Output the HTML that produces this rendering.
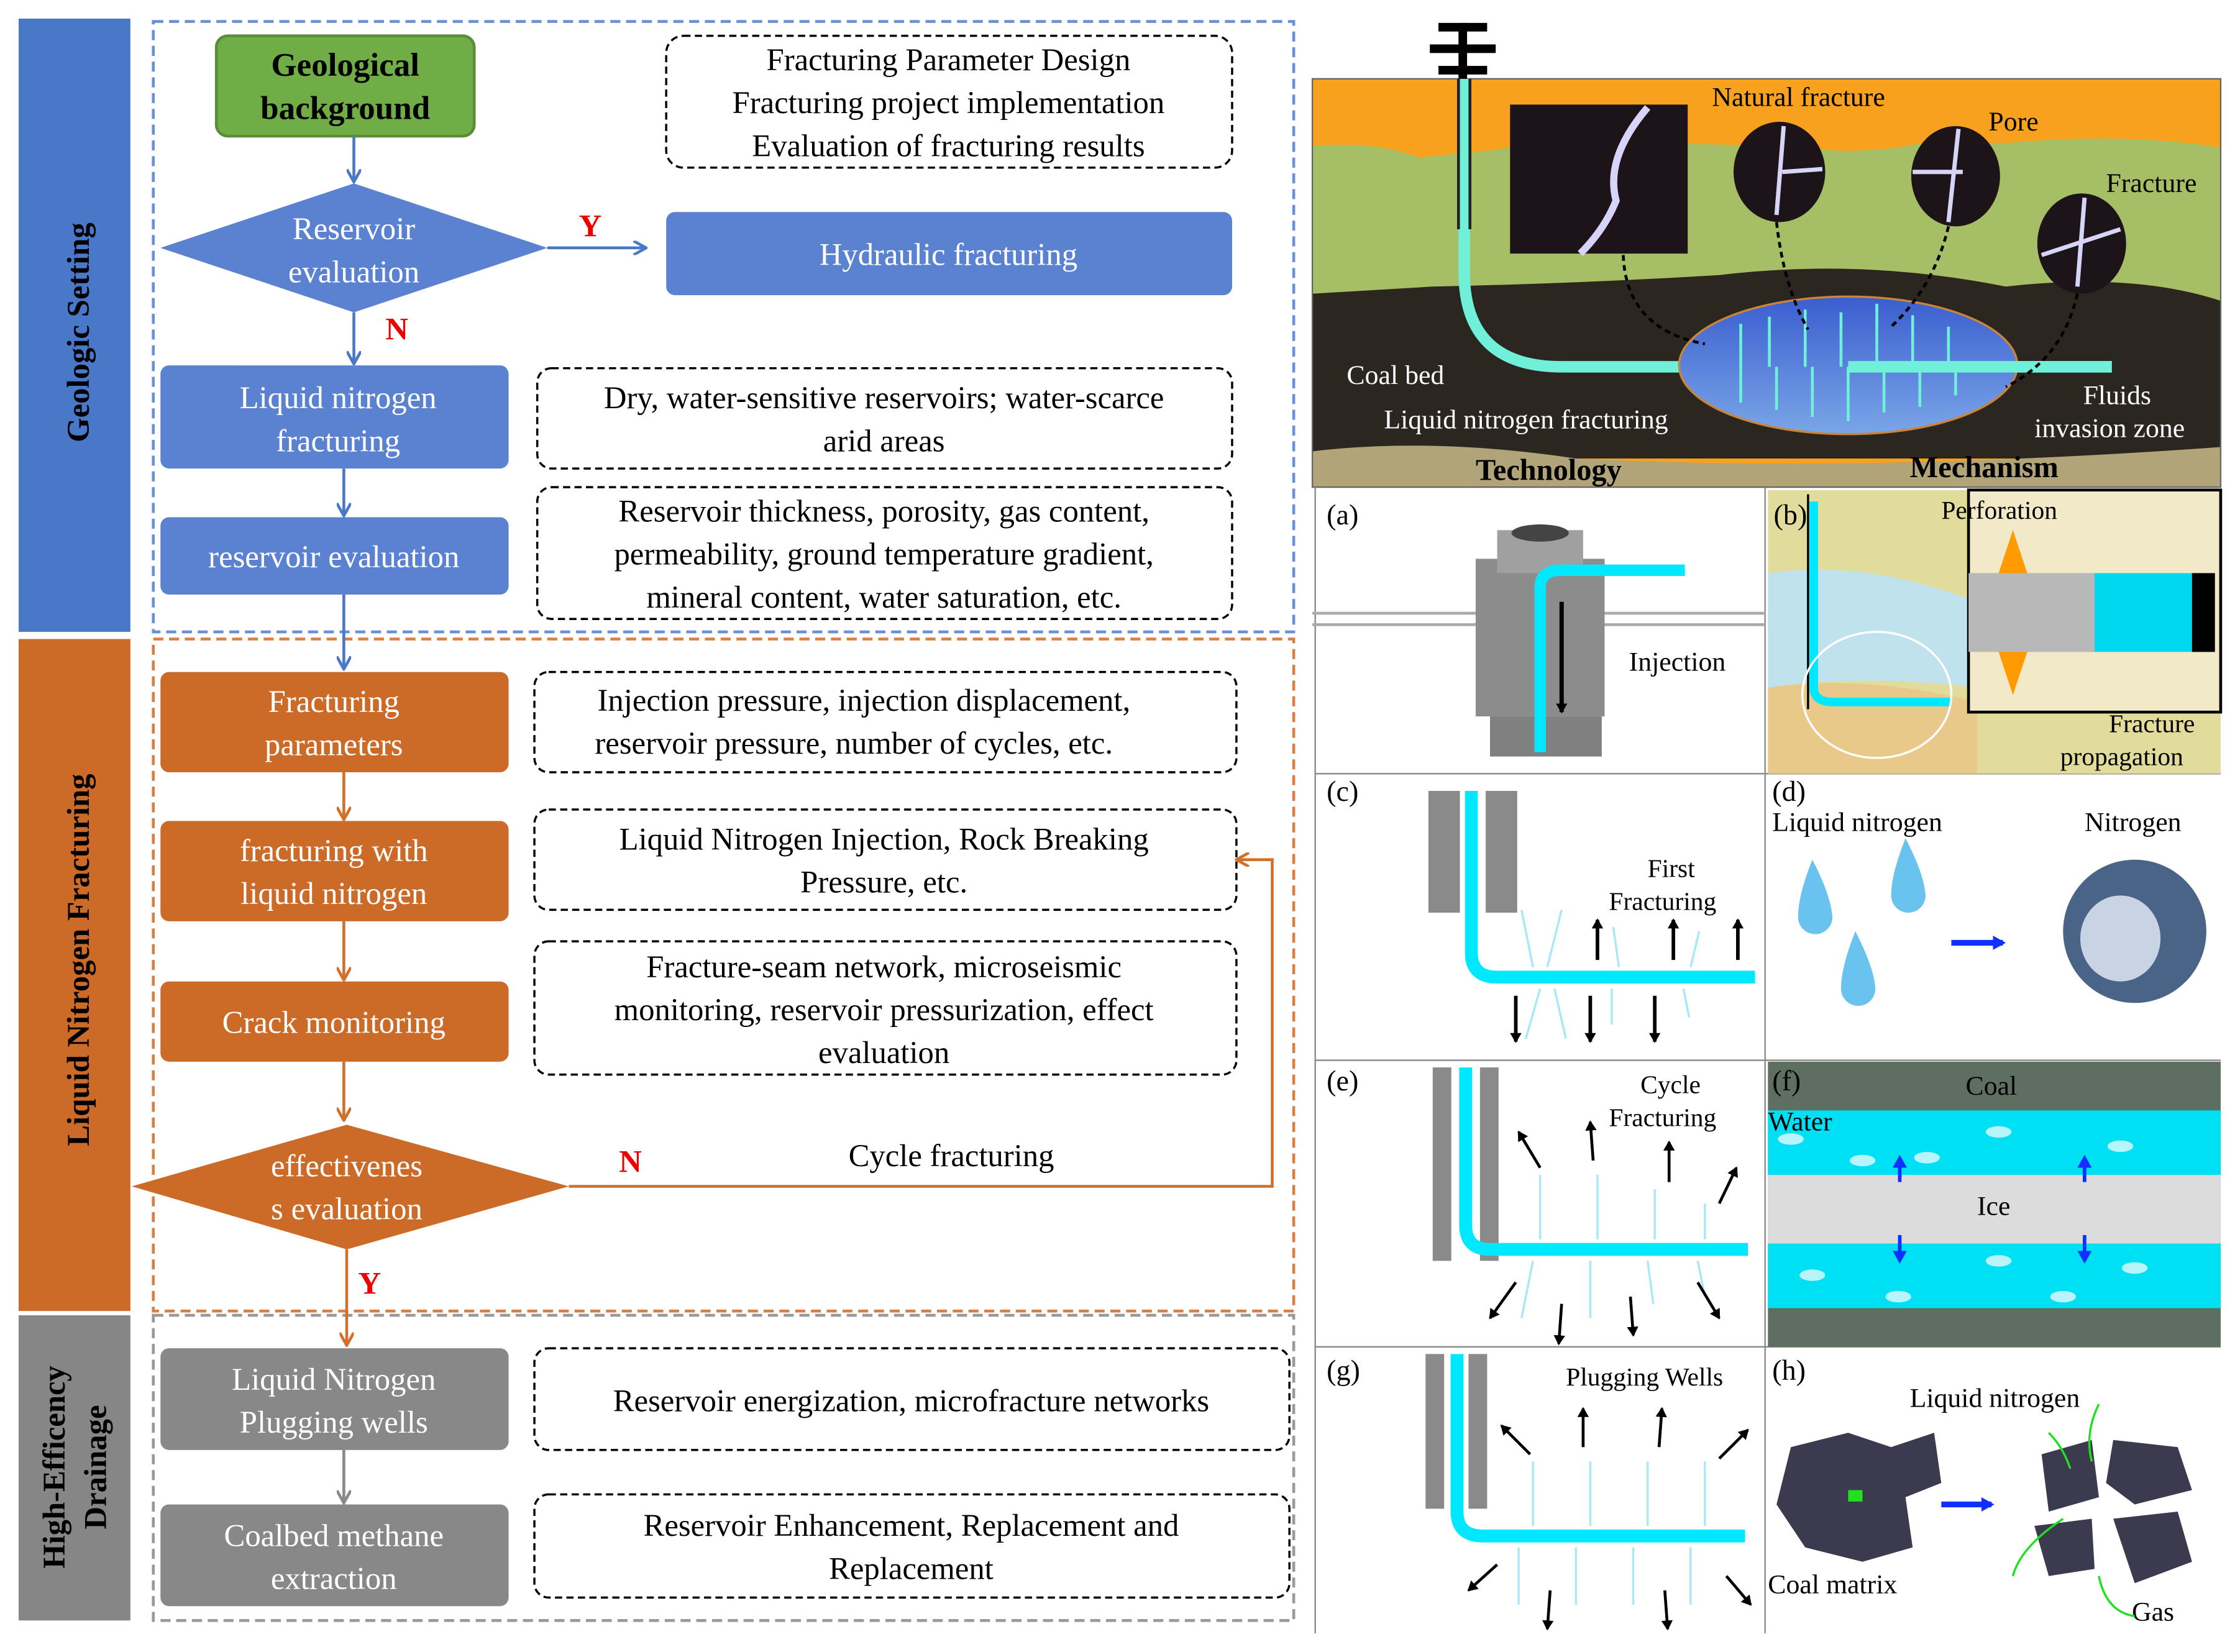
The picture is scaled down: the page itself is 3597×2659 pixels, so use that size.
<!DOCTYPE html>
<html><head><meta charset="utf-8"><style>
html,body{margin:0;padding:0;background:#fff}
svg{display:block}
text{font-family:"Liberation Serif",serif}
</style></head><body>
<svg width="3597" height="2659" viewBox="0 0 1560 1153" preserveAspectRatio="none" xmlns="http://www.w3.org/2000/svg">
<defs>
<marker id="ab" markerWidth="10" markerHeight="10" refX="8" refY="5" orient="auto" markerUnits="userSpaceOnUse"><path d="M0,0 L9,5 L0,10" fill="none" stroke="#4a78c8" stroke-width="2"/></marker>
<marker id="ao" markerWidth="10" markerHeight="10" refX="8" refY="5" orient="auto" markerUnits="userSpaceOnUse"><path d="M0,0 L9,5 L0,10" fill="none" stroke="#d0702a" stroke-width="2"/></marker>
<marker id="ag" markerWidth="10" markerHeight="10" refX="8" refY="5" orient="auto" markerUnits="userSpaceOnUse"><path d="M0,0 L9,5 L0,10" fill="none" stroke="#888" stroke-width="2"/></marker>
<marker id="ak" markerWidth="8" markerHeight="8" refX="6" refY="4" orient="auto" markerUnits="userSpaceOnUse"><path d="M0,0 L7,4 L0,8z" fill="#000"/></marker>
<marker id="abl" markerWidth="10" markerHeight="10" refX="7" refY="5" orient="auto" markerUnits="userSpaceOnUse"><path d="M0,0 L9,5 L0,10z" fill="#1030ff"/></marker>
<linearGradient id="ell" x1="0" y1="0" x2="0" y2="1"><stop offset="0" stop-color="#3a5ecf"/><stop offset="1" stop-color="#7aa6e8"/></linearGradient>
</defs>

<!-- side bars -->
<rect x="13" y="13" width="78" height="428" fill="#4a78c8"/>
<rect x="13" y="446" width="78" height="469" fill="#cc6a28"/>
<rect x="13" y="918" width="78" height="213" fill="#868686"/>
<text transform="translate(62,232) rotate(-90)" text-anchor="middle" font-size="22" font-weight="bold" fill="#000">Geologic Setting</text>
<text transform="translate(62,670) rotate(-90)" text-anchor="middle" font-size="22" font-weight="bold" fill="#000">Liquid Nitrogen Fracturing</text>
<text transform="translate(45,1024) rotate(-90)" text-anchor="middle" font-size="22" font-weight="bold" fill="#000">High-Efficency</text>
<text transform="translate(74,1024) rotate(-90)" text-anchor="middle" font-size="22" font-weight="bold" fill="#000">Drainage</text>

<!-- dashed groups -->
<rect x="107" y="15" width="796" height="426" fill="none" stroke="#6a90d8" stroke-width="2" stroke-dasharray="7,4"/>
<rect x="107" y="446" width="796" height="469" fill="none" stroke="#d98040" stroke-width="2" stroke-dasharray="7,4"/>
<rect x="107" y="918" width="796" height="213" fill="none" stroke="#999" stroke-width="2" stroke-dasharray="7,4"/>

<g font-size="22" text-anchor="middle">
<!-- blue section -->
<rect x="151" y="25" width="180" height="70" rx="8" fill="#70ad47" stroke="#5a8c3a" stroke-width="2"/>
<text x="241" y="53" font-weight="bold" font-size="23">Geological</text>
<text x="241" y="83" font-weight="bold" font-size="23">background</text>
<rect x="465" y="25" width="395" height="92" rx="12" fill="none" stroke="#000" stroke-width="1.5" stroke-dasharray="5,3"/>
<text x="662" y="49">Fracturing Parameter Design</text>
<text x="662" y="79">Fracturing project implementation</text>
<text x="662" y="109">Evaluation of fracturing results</text>
<line x1="247" y1="95" x2="247" y2="126" stroke="#4a78c8" stroke-width="2" marker-end="url(#ab)"/>
<polygon points="112,173 247,128 382,173 247,218" fill="#5b82d1"/>
<text x="247" y="167" fill="#fff">Reservoir</text>
<text x="247" y="197" fill="#fff">evaluation</text>
<line x1="382" y1="173" x2="450" y2="173" stroke="#4a78c8" stroke-width="2" marker-end="url(#ab)"/>
<text x="412" y="165" fill="#e00" font-weight="bold">Y</text>
<rect x="465" y="148" width="395" height="58" rx="6" fill="#5b82d1"/>
<text x="662" y="185" fill="#fff">Hydraulic fracturing</text>
<line x1="247" y1="218" x2="247" y2="253" stroke="#4a78c8" stroke-width="2" marker-end="url(#ab)"/>
<text x="277" y="237" fill="#e00" font-weight="bold">N</text>
<rect x="112" y="255" width="243" height="72" rx="6" fill="#5b82d1"/>
<text x="236" y="285" fill="#fff">Liquid nitrogen</text>
<text x="236" y="315" fill="#fff">fracturing</text>
<rect x="375" y="257" width="485" height="70" rx="10" fill="none" stroke="#000" stroke-width="1.5" stroke-dasharray="5,3"/>
<text x="617" y="285">Dry, water-sensitive reservoirs; water-scarce</text>
<text x="617" y="315">arid areas</text>
<line x1="240" y1="327" x2="240" y2="359" stroke="#4a78c8" stroke-width="2" marker-end="url(#ab)"/>
<rect x="112" y="361" width="243" height="54" rx="6" fill="#5b82d1"/>
<text x="233" y="396" fill="#fff">reservoir evaluation</text>
<rect x="375" y="340" width="485" height="92" rx="10" fill="none" stroke="#000" stroke-width="1.5" stroke-dasharray="5,3"/>
<text x="617" y="364">Reservoir thickness, porosity, gas content,</text>
<text x="617" y="394">permeability, ground temperature gradient,</text>
<text x="617" y="424">mineral content, water saturation, etc.</text>
<line x1="240" y1="415" x2="240" y2="466" stroke="#4a78c8" stroke-width="2" marker-end="url(#ab)"/>

<!-- orange -->
<rect x="112" y="469" width="243" height="70" rx="6" fill="#cc6a28"/>
<text x="233" y="497" fill="#fff">Fracturing</text>
<text x="233" y="527" fill="#fff">parameters</text>
<rect x="373" y="469" width="490" height="70" rx="10" fill="none" stroke="#000" stroke-width="1.5" stroke-dasharray="5,3"/>
<text x="603" y="496">Injection pressure, injection displacement,</text>
<text x="596" y="526">reservoir pressure, number of cycles, etc.</text>
<line x1="240" y1="539" x2="240" y2="571" stroke="#d0702a" stroke-width="2" marker-end="url(#ao)"/>
<rect x="112" y="573" width="243" height="70" rx="6" fill="#cc6a28"/>
<text x="233" y="601" fill="#fff">fracturing with</text>
<text x="233" y="631" fill="#fff">liquid nitrogen</text>
<rect x="373" y="565" width="490" height="70" rx="10" fill="none" stroke="#000" stroke-width="1.5" stroke-dasharray="5,3"/>
<text x="617" y="593">Liquid Nitrogen Injection, Rock Breaking</text>
<text x="617" y="623">Pressure, etc.</text>
<line x1="240" y1="643" x2="240" y2="683" stroke="#d0702a" stroke-width="2" marker-end="url(#ao)"/>
<rect x="112" y="685" width="243" height="56" rx="6" fill="#cc6a28"/>
<text x="233" y="721" fill="#fff">Crack monitoring</text>
<rect x="373" y="657" width="490" height="93" rx="10" fill="none" stroke="#000" stroke-width="1.5" stroke-dasharray="5,3"/>
<text x="617" y="682">Fracture-seam network, microseismic</text>
<text x="617" y="712">monitoring, reservoir pressurization, effect</text>
<text x="617" y="742">evaluation</text>
<line x1="240" y1="741" x2="240" y2="781" stroke="#d0702a" stroke-width="2" marker-end="url(#ao)"/>
<polygon points="92,828 242,785 397,828 242,872" fill="#cc6a28"/>
<text x="242" y="821" fill="#fff">effectivenes</text>
<text x="242" y="851" fill="#fff">s evaluation</text>
<polyline points="397,828 888,828 888,600 864,600" fill="none" stroke="#d0702a" stroke-width="2" marker-end="url(#ao)"/>
<text x="440" y="818" fill="#e00" font-weight="bold">N</text>
<text x="664" y="814">Cycle fracturing</text>
<line x1="242" y1="872" x2="242" y2="938" stroke="#d0702a" stroke-width="2" marker-end="url(#ao)"/>
<text x="258" y="903" fill="#e00" font-weight="bold">Y</text>

<!-- gray -->
<rect x="112" y="941" width="243" height="71" rx="6" fill="#888"/>
<text x="233" y="970" fill="#fff">Liquid Nitrogen</text>
<text x="233" y="1000" fill="#fff">Plugging wells</text>
<rect x="373" y="941" width="527" height="71" rx="10" fill="none" stroke="#000" stroke-width="1.5" stroke-dasharray="5,3"/>
<text x="636" y="985">Reservoir energization, microfracture networks</text>
<line x1="240" y1="1012" x2="240" y2="1048" stroke="#888" stroke-width="2" marker-end="url(#ag)"/>
<rect x="112" y="1050" width="243" height="71" rx="6" fill="#888"/>
<text x="233" y="1079" fill="#fff">Coalbed methane</text>
<text x="233" y="1109" fill="#fff">extraction</text>
<rect x="373" y="1043" width="527" height="72" rx="10" fill="none" stroke="#000" stroke-width="1.5" stroke-dasharray="5,3"/>
<text x="636" y="1072">Reservoir Enhancement, Replacement and</text>
<text x="636" y="1102">Replacement</text>
</g>

<!-- top right panel -->
<g>
<rect x="916" y="55" width="634" height="285" fill="#f7a11e"/>
<path d="M916,102 Q960,98 990,110 L1040,105 Q1100,95 1160,100 L1250,102 Q1300,110 1350,98 L1400,100 Q1480,92 1550,103 L1550,210 Q1490,190 1400,200 Q1300,180 1200,192 Q1100,198 1000,200 L916,205z" fill="#a6bf66"/>
<path d="M916,205 L1000,200 Q1100,198 1200,192 Q1300,180 1400,200 Q1490,190 1550,210 L1550,320 L916,320z" fill="#2c2620"/>
<path d="M916,315 Q1000,305 1100,320 Q1300,330 1550,312 L1550,340 L916,340z" fill="#b0a478"/>
<rect x="916" y="55" width="634" height="285" fill="none" stroke="#666" stroke-width="1"/>
<!-- wellhead -->
<rect x="1004" y="16" width="34" height="6" fill="#000"/><rect x="998" y="31" width="46" height="6" fill="#000"/><rect x="1004" y="46" width="34" height="6" fill="#000"/><rect x="1018" y="16" width="6" height="40" fill="#000"/>
<path d="M1022,55 L1022,190 Q1022,256 1090,256 L1474,256" fill="none" stroke="#70f0d8" stroke-width="8"/>
<line x1="1018" y1="55" x2="1018" y2="160" stroke="#222" stroke-width="2"/><line x1="1026" y1="55" x2="1026" y2="160" stroke="#222" stroke-width="2"/>
<ellipse cx="1290" cy="255" rx="118" ry="48" fill="url(#ell)" stroke="#c9853a" stroke-width="1.5"/>
<path d="M1290,256 L1474,256" stroke="#70f0d8" stroke-width="8"/>
<g stroke="#70f0d8" stroke-width="2" fill="none">
<path d="M1215,256 v-30 M1235,256 v-35 M1260,256 v-40 M1285,256 v-38 M1310,256 v-44 M1335,256 v-36 M1360,256 v-28 M1215,256 v25 M1240,256 v30 M1265,256 v35 M1290,256 v38 M1315,256 v32 M1340,256 v28 M1365,256 v20"/>
</g>
<rect x="1054" y="73" width="124" height="104" fill="#1c1418"/>
<path d="M1150,75 Q1120,110 1128,140 Q1120,160 1103,177" stroke="#d6d4f8" stroke-width="5" fill="none"/>
<ellipse cx="1242" cy="120" rx="32" ry="35" fill="#1c1418"/><path d="M1245,88 L1240,150 M1244,120 L1272,118" stroke="#d6d4f8" stroke-width="3"/>
<ellipse cx="1365" cy="123" rx="31" ry="35" fill="#1c1418"/><path d="M1367,90 L1360,155 M1335,120 L1370,120" stroke="#d6d4f8" stroke-width="3"/>
<ellipse cx="1453" cy="170" rx="31" ry="35" fill="#1c1418"/><path d="M1455,138 L1450,200 M1425,178 L1480,160" stroke="#d6d4f8" stroke-width="3"/>
<g stroke="#000" stroke-width="2" stroke-dasharray="4,3" fill="none">
<path d="M1133,178 Q1135,230 1190,240"/><path d="M1240,155 Q1245,200 1262,230"/><path d="M1360,158 Q1350,200 1320,228"/><path d="M1450,205 Q1440,250 1400,270"/>
</g>
<g font-size="19">
<text x="1195" y="74">Natural fracture</text>
<text x="1388" y="91">Pore</text>
<text x="1470" y="134">Fracture</text>
<text x="940" y="268" fill="#fff">Coal bed</text>
<text x="966" y="299" fill="#fff">Liquid nitrogen fracturing</text>
<text x="1454" y="282" fill="#fff">Fluids</text>
<text x="1420" y="305" fill="#fff">invasion zone</text>
<text x="1030" y="335" font-weight="bold" font-size="21">Technology</text>
<text x="1333" y="333" font-weight="bold" font-size="21">Mechanism</text>
</g>
</g>

<!-- grid panels -->
<g stroke="#888" stroke-width="1" fill="none">
<line x1="918" y1="340" x2="918" y2="1140"/>
<line x1="1232" y1="340" x2="1232" y2="1140"/>
<line x1="918" y1="540" x2="1550" y2="540"/>
<line x1="918" y1="740" x2="1550" y2="740"/>
<line x1="918" y1="940" x2="1550" y2="940"/>
</g>
<!-- (a) -->
<g>
<line x1="916" y1="428" x2="1232" y2="428" stroke="#aaa" stroke-width="2"/><line x1="916" y1="436" x2="1232" y2="436" stroke="#aaa" stroke-width="2"/>
<rect x="1030" y="390" width="90" height="110" fill="#8c8c8c"/>
<rect x="1045" y="370" width="60" height="30" fill="#a0a0a0"/>
<ellipse cx="1075" cy="372" rx="20" ry="6" fill="#444"/>
<rect x="1040" y="500" width="78" height="28" fill="#808080"/>
<path d="M1075,525 L1075,410 Q1075,398 1090,398 L1176,398" stroke="#00e8ff" stroke-width="8" fill="none"/>
<line x1="1090" y1="420" x2="1090" y2="497" stroke="#000" stroke-width="3" marker-end="url(#ak)"/>
<text x="1137" y="468" font-size="19">Injection</text>
<text x="926" y="366" font-size="20">(a)</text>
</g>
<!-- (b) -->
<g>
<rect x="1234" y="342" width="316" height="198" fill="#e2dc9c"/>
<path d="M1234,400 Q1300,390 1380,420 L1380,480 Q1300,470 1234,480z" fill="#bfe2ec"/>
<path d="M1234,480 Q1300,470 1380,490 L1380,540 L1234,540z" fill="#e8c98a"/>
<rect x="1374" y="342" width="176" height="155" fill="#f2e9c8" stroke="#000" stroke-width="2"/>
<rect x="1374" y="400" width="90" height="55" fill="#b8b8b8"/>
<rect x="1462" y="400" width="80" height="55" fill="#00d8f0"/>
<rect x="1530" y="400" width="16" height="55" fill="#000"/>
<polygon points="1405,370 1395,400 1415,400" fill="#ff9a00"/><polygon points="1405,485 1395,455 1415,455" fill="#ff9a00"/>
<path d="M1266,350 L1266,480 Q1266,490 1280,490 L1362,490" stroke="#00e8ff" stroke-width="6" fill="none"/>
<line x1="1262" y1="345" x2="1262" y2="495" stroke="#000" stroke-width="1.5"/>
<ellipse cx="1310" cy="485" rx="52" ry="44" fill="none" stroke="#fff" stroke-width="1.5"/>
<text x="1238" y="366" font-size="20">(b)</text>
<text x="1355" y="362" font-size="18">Perforation</text>
<text x="1472" y="511" font-size="18">Fracture</text>
<text x="1438" y="534" font-size="18">propagation</text>
</g>
<!-- (c) -->
<g>
<rect x="997" y="552" width="22" height="85" fill="#8a8a8a"/><rect x="1037" y="552" width="22" height="85" fill="#8a8a8a"/>
<path d="M1027,552 L1027,665 Q1027,682 1045,682 L1225,682" stroke="#00e8ff" stroke-width="9" fill="none"/>
<g stroke="#a8e8f8" stroke-width="1.5"><path d="M1070,675 l-8,-40 M1080,675 l10,-40 M1130,675 l-4,-28 M1180,675 l6,-25 M1075,690 l-10,35 M1085,690 l8,35 M1125,690 l0,25 M1175,690 l4,20"/></g>
<g stroke="#000" stroke-width="2.5"><line x1="1115" y1="670" x2="1115" y2="642" marker-end="url(#ak)"/><line x1="1168" y1="670" x2="1168" y2="642" marker-end="url(#ak)"/><line x1="1213" y1="670" x2="1213" y2="642" marker-end="url(#ak)"/>
<line x1="1058" y1="695" x2="1058" y2="727" marker-end="url(#ak)"/><line x1="1110" y1="695" x2="1110" y2="727" marker-end="url(#ak)"/><line x1="1155" y1="695" x2="1155" y2="727" marker-end="url(#ak)"/></g>
<text x="926" y="559" font-size="20">(c)</text>
<text x="1150" y="612" font-size="18">First</text>
<text x="1123" y="635" font-size="18">Fracturing</text>
</g>
<!-- (d) -->
<g>
<text x="1237" y="559" font-size="20">(d)</text>
<text x="1237" y="580" font-size="19">Liquid nitrogen</text>
<text x="1455" y="580" font-size="19">Nitrogen</text>
<path d="M1265,600 Q1255,625 1255,640 a12,12 0 0 0 24,0 Q1278,625 1265,600z" fill="#69c3ee"/>
<path d="M1330,585 Q1320,610 1320,625 a12,12 0 0 0 24,0 Q1343,610 1330,585z" fill="#69c3ee"/>
<path d="M1295,650 Q1285,675 1285,690 a12,12 0 0 0 24,0 Q1308,675 1295,650z" fill="#69c3ee"/>
<line x1="1362" y1="658" x2="1398" y2="658" stroke="#1030ff" stroke-width="4" marker-end="url(#abl)"/>
<ellipse cx="1490" cy="650" rx="50" ry="50" fill="#4a6488"/>
<ellipse cx="1480" cy="655" rx="28" ry="30" fill="#c8d4e4"/>
</g>
<!-- (e) -->
<g>
<rect x="1000" y="745" width="13" height="135" fill="#8a8a8a"/><rect x="1033" y="745" width="13" height="135" fill="#8a8a8a"/>
<path d="M1023,745 L1023,855 Q1023,872 1040,872 L1220,872" stroke="#00e8ff" stroke-width="9" fill="none"/>
<g stroke="#a8e8f8" stroke-width="1.5"><path d="M1075,865 l0,-45 M1115,865 l0,-45 M1155,865 l0,-35 M1190,865 l0,-25 M1070,880 l-8,40 M1110,880 l0,40 M1150,880 l4,30 M1185,880 l5,25"/></g>
<g stroke="#000" stroke-width="2"><line x1="1075" y1="815" x2="1060" y2="790" marker-end="url(#ak)"/><line x1="1112" y1="810" x2="1110" y2="783" marker-end="url(#ak)"/><line x1="1165" y1="825" x2="1165" y2="797" marker-end="url(#ak)"/><line x1="1200" y1="840" x2="1212" y2="815" marker-end="url(#ak)"/>
<line x1="1058" y1="895" x2="1040" y2="920" marker-end="url(#ak)"/><line x1="1090" y1="910" x2="1088" y2="938" marker-end="url(#ak)"/><line x1="1138" y1="905" x2="1140" y2="932" marker-end="url(#ak)"/><line x1="1185" y1="895" x2="1200" y2="920" marker-end="url(#ak)"/></g>
<text x="926" y="761" font-size="20">(e)</text>
<text x="1145" y="763" font-size="18">Cycle</text>
<text x="1123" y="786" font-size="18">Fracturing</text>
</g>
<!-- (f) -->
<g>
<rect x="1234" y="741" width="316" height="199" fill="#5e6e60"/>
<rect x="1234" y="775" width="316" height="45" fill="#00e0f4"/>
<rect x="1234" y="820" width="316" height="48" fill="#dcdcdc"/>
<rect x="1234" y="868" width="316" height="45" fill="#00e0f4"/>
<g fill="#b8f4fc"><ellipse cx="1250" cy="795" rx="9" ry="4"/><ellipse cx="1300" cy="810" rx="9" ry="4"/><ellipse cx="1345" cy="808" rx="9" ry="4"/><ellipse cx="1395" cy="790" rx="9" ry="4"/><ellipse cx="1480" cy="800" rx="9" ry="4"/><ellipse cx="1265" cy="890" rx="9" ry="4"/><ellipse cx="1325" cy="905" rx="9" ry="4"/><ellipse cx="1395" cy="880" rx="9" ry="4"/><ellipse cx="1490" cy="885" rx="9" ry="4"/><ellipse cx="1440" cy="905" rx="9" ry="4"/></g>
<g stroke="#1030ff" stroke-width="2.5"><line x1="1326" y1="825" x2="1326" y2="808" marker-end="url(#abl)"/><line x1="1455" y1="825" x2="1455" y2="808" marker-end="url(#abl)"/><line x1="1326" y1="862" x2="1326" y2="880" marker-end="url(#abl)"/><line x1="1455" y1="862" x2="1455" y2="880" marker-end="url(#abl)"/></g>
<text x="1237" y="761" font-size="20">(f)</text>
<text x="1372" y="764" font-size="19">Coal</text>
<text x="1234" y="789" font-size="19">Water</text>
<text x="1380" y="848" font-size="19">Ice</text>
</g>
<!-- (g) -->
<g>
<rect x="995" y="945" width="13" height="108" fill="#8a8a8a"/><rect x="1025" y="945" width="13" height="108" fill="#8a8a8a"/>
<path d="M1017,945 L1017,1055 Q1017,1072 1035,1072 L1218,1072" stroke="#00e8ff" stroke-width="9" fill="none"/>
<g stroke="#a8e8f8" stroke-width="1.5"><path d="M1070,1065 l0,-45 M1110,1065 l0,-45 M1150,1065 l0,-45 M1190,1065 l0,-45 M1060,1080 l0,40 M1100,1080 l0,40 M1140,1080 l0,40 M1180,1080 l0,40"/></g>
<g stroke="#000" stroke-width="2"><line x1="1068" y1="1015" x2="1048" y2="995" marker-end="url(#ak)"/><line x1="1105" y1="1010" x2="1105" y2="983" marker-end="url(#ak)"/><line x1="1158" y1="1010" x2="1160" y2="983" marker-end="url(#ak)"/><line x1="1200" y1="1018" x2="1220" y2="998" marker-end="url(#ak)"/>
<line x1="1045" y1="1092" x2="1025" y2="1110" marker-end="url(#ak)"/><line x1="1082" y1="1110" x2="1080" y2="1137" marker-end="url(#ak)"/><line x1="1162" y1="1110" x2="1164" y2="1137" marker-end="url(#ak)"/><line x1="1205" y1="1100" x2="1222" y2="1120" marker-end="url(#ak)"/></g>
<text x="926" y="963" font-size="20">(g)</text>
<text x="1093" y="967" font-size="18">Plugging Wells</text>
</g>
<!-- (h) -->
<g>
<text x="1237" y="963" font-size="20">(h)</text>
<text x="1333" y="982" font-size="19">Liquid nitrogen</text>
<text x="1234" y="1112" font-size="19">Coal matrix</text>
<text x="1488" y="1131" font-size="19">Gas</text>
<path d="M1250,1010 L1290,1000 L1320,1010 L1350,1000 L1355,1035 L1330,1045 L1335,1080 L1300,1090 L1260,1080 L1240,1050z" fill="#3c3a4e"/>
<rect x="1290" y="1040" width="10" height="8" fill="#20e020"/>
<line x1="1355" y1="1050" x2="1390" y2="1050" stroke="#1030ff" stroke-width="4" marker-end="url(#abl)"/>
<path d="M1425,1015 L1460,1005 L1465,1045 L1430,1055z" fill="#3c3a4e"/>
<path d="M1475,1005 L1520,1010 L1530,1040 L1490,1050 L1470,1035z" fill="#3c3a4e"/>
<path d="M1420,1065 L1460,1060 L1462,1095 L1430,1100z" fill="#3c3a4e"/>
<path d="M1475,1060 L1520,1055 L1530,1090 L1490,1105z" fill="#3c3a4e"/>
<g stroke="#20e020" stroke-width="1.5" fill="none"><path d="M1440,1060 Q1410,1080 1405,1100"/><path d="M1465,1100 Q1470,1125 1490,1128"/><path d="M1465,980 Q1455,1000 1460,1020"/><path d="M1430,1000 Q1440,1010 1445,1025"/></g>
</g>
</svg>
</body></html>
